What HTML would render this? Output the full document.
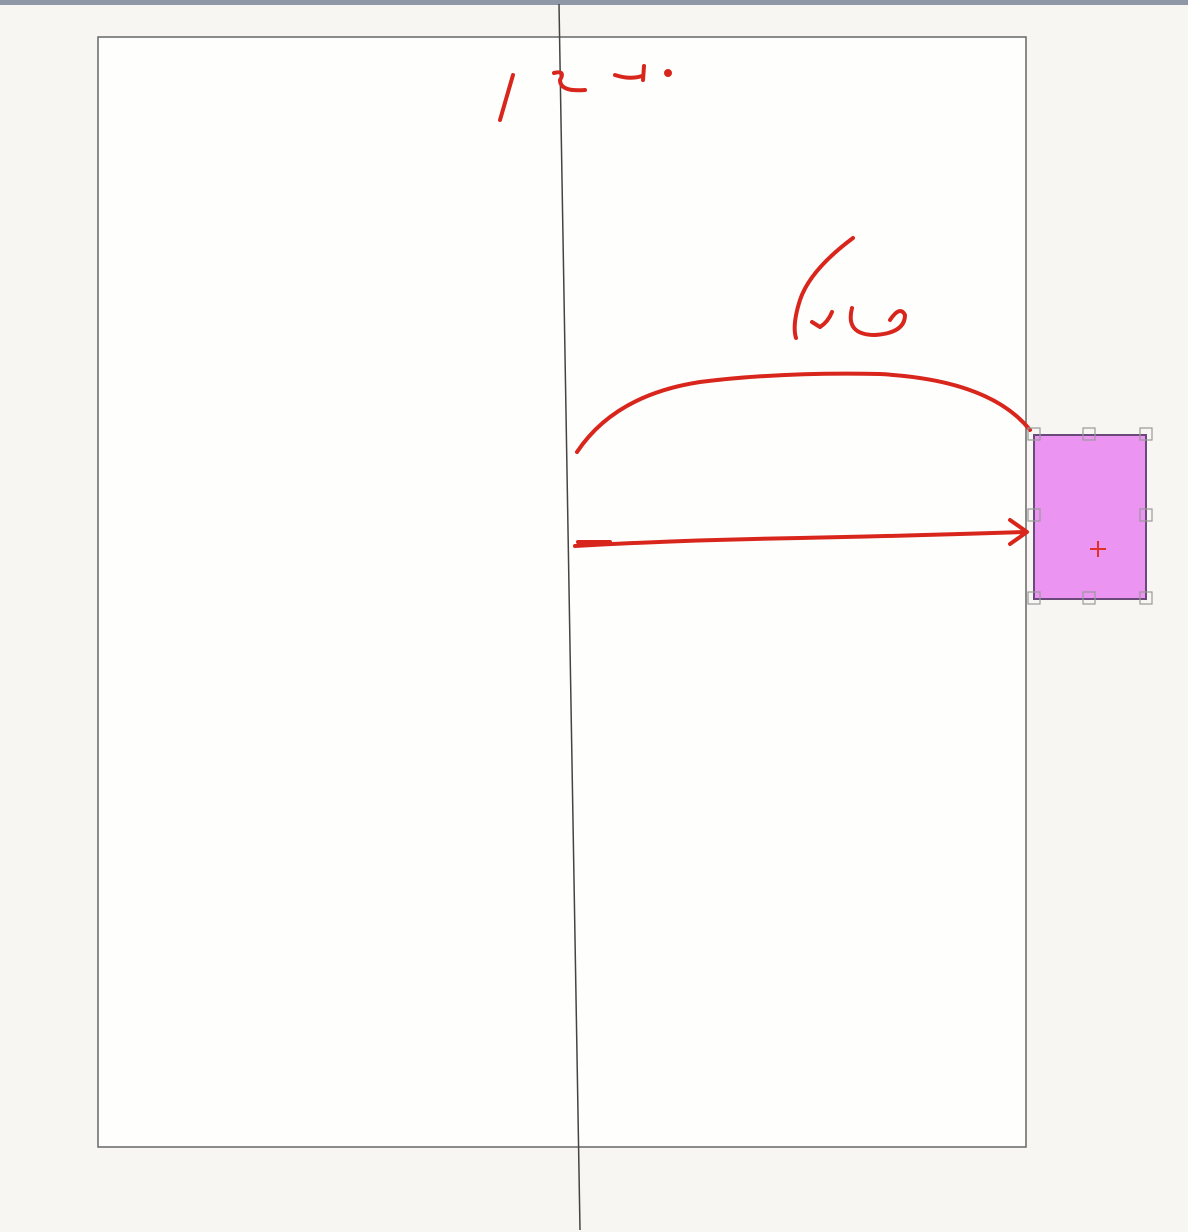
<!DOCTYPE html>
<html><head><meta charset="utf-8"><style>
html,body{margin:0;padding:0;background:#f7f6f2;}
svg{display:block}
</style></head><body>
<svg width="1188" height="1232" viewBox="0 0 1188 1232">
  <rect x="0" y="0" width="1188" height="1232" fill="#f7f6f2"/>
  <rect x="0" y="0" width="1188" height="5" fill="#8d97a6"/>
  <rect x="98" y="37" width="928" height="1110" fill="#fefefd" stroke="#666" stroke-width="1.5"/>
  <path d="M559 4 L580 1230" stroke="#444" stroke-width="1.5" fill="none"/>
  <g stroke="#d9261c" stroke-width="4" fill="none" stroke-linecap="round" stroke-linejoin="round">
    <path d="M500 120 L513 75"/>
    <path d="M554 73 Q566 70 560 80 Q560 92 585 90"/>
    <path d="M615 75 Q630 80 642 76 M644 66 L643 80"/>
    <circle cx="668" cy="73" r="2"/>
    <path d="M853 238 Q810 270 800 300 Q792 325 796 338"/>
    <path d="M812 322 L820 327 Q828 322 832 312"/>
    <path d="M852 308 Q845 335 875 335 Q905 333 905 315 Q900 305 890 320"/>
    <path d="M577 452 Q615 395 700 382 Q780 372 880 374 Q990 380 1030 430"/>
    <path d="M575 546 Q680 540 800 538 Q900 536 1025 532 M1010 520 L1027 532 L1010 544 M578 542 L610 542"/>
  </g>
  <g>
    <rect x="1034" y="435" width="112" height="164" fill="#eb94f2" stroke="#6a4a7a" stroke-width="2"/>
    <g fill="none" stroke="#999" stroke-width="1.2">
      <rect x="1028" y="428" width="12" height="12"/><rect x="1083" y="428" width="12" height="12"/><rect x="1140" y="428" width="12" height="12"/>
      <rect x="1028" y="509" width="12" height="12"/><rect x="1140" y="509" width="12" height="12"/>
      <rect x="1028" y="592" width="12" height="12"/><rect x="1083" y="592" width="12" height="12"/><rect x="1140" y="592" width="12" height="12"/>
    </g>
    <path d="M1090 549 L1106 549 M1098 541 L1098 557" stroke="#e0302a" stroke-width="2"/>
  </g>
</svg>
</body></html>
